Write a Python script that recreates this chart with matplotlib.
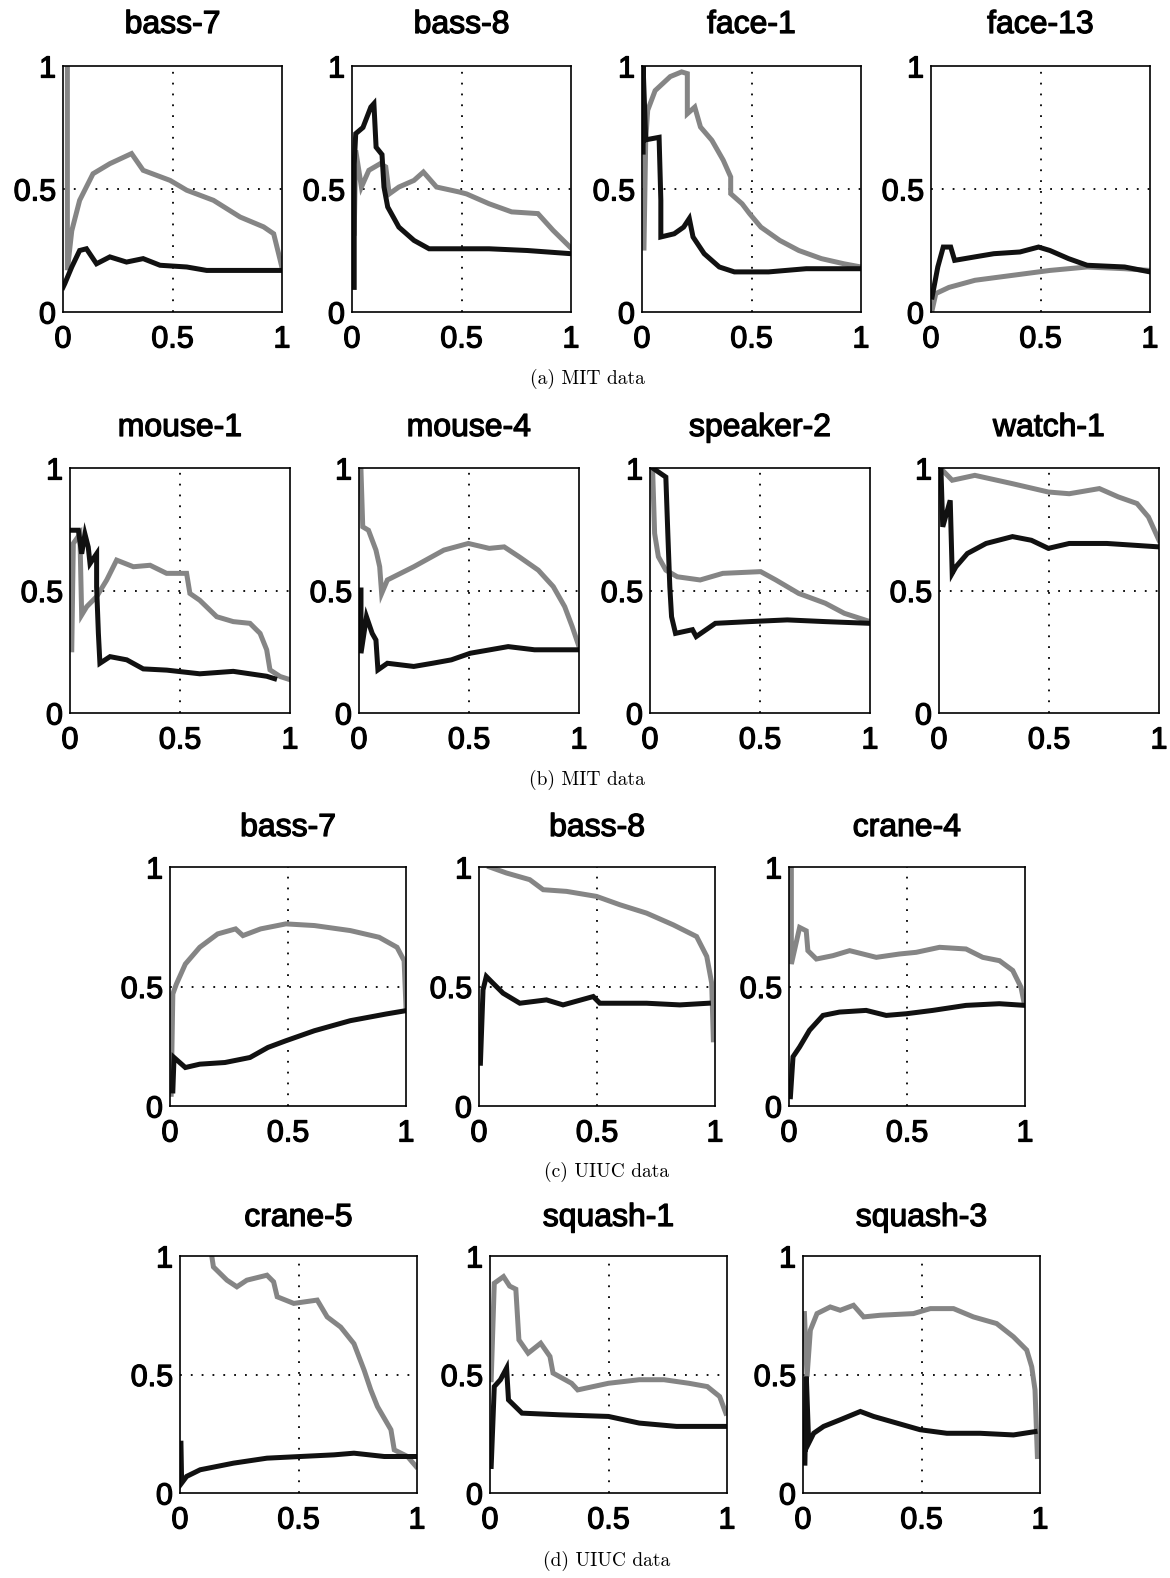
import matplotlib
matplotlib.use("Agg")
import matplotlib.pyplot as plt
import matplotlib.patheffects as pe

# ---------------------------------------------------------------------------
# data: recall on x, precision on y
# ---------------------------------------------------------------------------
# (a) MIT data
bass7_mit_black_x = [0.0, 0.008, 0.04, 0.076, 0.107, 0.153, 0.214, 0.29, 0.366, 0.443, 0.565, 0.656, 0.779, 1.0]
bass7_mit_black_y = [0.10, 0.115, 0.183, 0.25, 0.257, 0.196, 0.224, 0.203, 0.217, 0.19, 0.183, 0.169, 0.169, 0.169]
bass7_mit_gray_x = [0.02, 0.02, 0.04, 0.076, 0.137, 0.214, 0.313, 0.366, 0.489, 0.565, 0.687, 0.809, 0.916, 0.962, 0.992, 1.0]
bass7_mit_gray_y = [1.0, 0.17, 0.33, 0.454, 0.562, 0.603, 0.644, 0.576, 0.535, 0.495, 0.454, 0.386, 0.346, 0.318, 0.21, 0.18]

bass8_mit_black_x = [0.01, 0.01, 0.017, 0.05, 0.086, 0.10, 0.11, 0.137, 0.146, 0.163, 0.214, 0.283, 0.352, 0.455, 0.626, 0.80, 1.0]
bass8_mit_black_y = [0.10, 0.60, 0.725, 0.75, 0.833, 0.847, 0.67, 0.64, 0.508, 0.427, 0.345, 0.291, 0.257, 0.257, 0.257, 0.25, 0.237]
bass8_mit_gray_x = [0.01, 0.017, 0.043, 0.077, 0.129, 0.154, 0.17, 0.214, 0.283, 0.326, 0.386, 0.489, 0.523, 0.626, 0.729, 0.849, 0.918, 1.0]
bass8_mit_gray_y = [0.32, 0.657, 0.508, 0.576, 0.603, 0.59, 0.48, 0.508, 0.535, 0.569, 0.508, 0.488, 0.48, 0.44, 0.407, 0.40, 0.332, 0.26]

face1_mit_black_x = [0.005, 0.005, 0.017, 0.078, 0.086, 0.086, 0.147, 0.19, 0.216, 0.233, 0.284, 0.353, 0.422, 0.578, 0.75, 1.0]
face1_mit_black_y = [0.65, 1.0, 0.70, 0.71, 0.454, 0.305, 0.318, 0.345, 0.38, 0.305, 0.237, 0.183, 0.163, 0.163, 0.176, 0.176]
face1_mit_gray_x = [0.009, 0.017, 0.026, 0.06, 0.129, 0.181, 0.207, 0.207, 0.241, 0.267, 0.319, 0.371, 0.405, 0.405, 0.457, 0.491, 0.543, 0.629, 0.716, 0.819, 0.922, 1.0]
face1_mit_gray_y = [0.26, 0.70, 0.82, 0.90, 0.957, 0.976, 0.969, 0.806, 0.833, 0.752, 0.698, 0.617, 0.549, 0.481, 0.44, 0.40, 0.345, 0.291, 0.25, 0.217, 0.196, 0.183]

face13_mit_black_x = [0.005, 0.031, 0.056, 0.09, 0.108, 0.20, 0.287, 0.406, 0.491, 0.543, 0.628, 0.713, 0.884, 1.0]
face13_mit_black_y = [0.061, 0.183, 0.264, 0.264, 0.21, 0.224, 0.237, 0.244, 0.264, 0.25, 0.217, 0.19, 0.183, 0.163]
face13_mit_gray_x = [0.005, 0.022, 0.082, 0.201, 0.372, 0.543, 0.713, 0.884, 1.0]
face13_mit_gray_y = [0.007, 0.075, 0.10, 0.129, 0.149, 0.169, 0.183, 0.176, 0.169]

# (b) MIT data
mouse1_black_x = [0.008, 0.038, 0.053, 0.068, 0.083, 0.091, 0.121, 0.121, 0.129, 0.136, 0.182, 0.258, 0.333, 0.44, 0.59, 0.742, 0.894, 0.93]
mouse1_black_y = [0.746, 0.746, 0.65, 0.73, 0.677, 0.61, 0.65, 0.515, 0.325, 0.203, 0.23, 0.217, 0.18, 0.175, 0.16, 0.17, 0.15, 0.14]
mouse1_gray_x = [0.008, 0.015, 0.045, 0.053, 0.076, 0.121, 0.167, 0.212, 0.288, 0.364, 0.439, 0.53, 0.545, 0.59, 0.667, 0.742, 0.818, 0.864, 0.894, 0.909, 0.955, 1.0]
mouse1_gray_y = [0.258, 0.692, 0.73, 0.40, 0.434, 0.475, 0.543, 0.624, 0.597, 0.603, 0.57, 0.57, 0.488, 0.46, 0.393, 0.373, 0.366, 0.325, 0.258, 0.176, 0.149, 0.136]

mouse4_black_x = [0.009, 0.009, 0.034, 0.06, 0.077, 0.086, 0.129, 0.249, 0.334, 0.42, 0.506, 0.678, 0.798, 1.0]
mouse4_black_y = [0.502, 0.244, 0.393, 0.325, 0.298, 0.176, 0.203, 0.19, 0.203, 0.217, 0.244, 0.271, 0.258, 0.258]
mouse4_gray_x = [0.009, 0.017, 0.043, 0.077, 0.094, 0.103, 0.129, 0.249, 0.386, 0.497, 0.592, 0.66, 0.729, 0.815, 0.883, 0.935, 0.969, 1.0]
mouse4_gray_y = [0.99, 0.76, 0.746, 0.665, 0.597, 0.488, 0.543, 0.597, 0.665, 0.692, 0.672, 0.678, 0.637, 0.583, 0.516, 0.434, 0.353, 0.271]

speaker2_black_x = [0.012, 0.072, 0.081, 0.09, 0.098, 0.116, 0.193, 0.21, 0.297, 0.452, 0.624, 0.797, 1.0]
speaker2_black_y = [1.0, 0.963, 0.733, 0.516, 0.393, 0.325, 0.34, 0.312, 0.366, 0.373, 0.38, 0.373, 0.366]
speaker2_gray_x = [0.012, 0.021, 0.038, 0.072, 0.124, 0.228, 0.331, 0.503, 0.572, 0.676, 0.797, 0.883, 1.0]
speaker2_gray_y = [0.99, 0.733, 0.638, 0.583, 0.556, 0.543, 0.57, 0.577, 0.543, 0.488, 0.448, 0.407, 0.373]

watch1_black_x = [0.009, 0.017, 0.051, 0.06, 0.077, 0.129, 0.214, 0.334, 0.42, 0.497, 0.592, 0.763, 1.0]
watch1_black_y = [0.99, 0.76, 0.868, 0.57, 0.597, 0.651, 0.692, 0.72, 0.705, 0.672, 0.692, 0.692, 0.678]
watch1_gray_x = [0.009, 0.06, 0.163, 0.334, 0.497, 0.592, 0.729, 0.815, 0.90, 0.952, 1.0]
watch1_gray_y = [0.997, 0.95, 0.97, 0.936, 0.902, 0.895, 0.916, 0.882, 0.855, 0.80, 0.705]

# (c) UIUC data
bass7_uiuc_black_x = [0.012, 0.017, 0.065, 0.126, 0.233, 0.339, 0.415, 0.491, 0.612, 0.764, 0.916, 1.0]
bass7_uiuc_black_y = [0.063, 0.203, 0.161, 0.175, 0.182, 0.203, 0.245, 0.273, 0.315, 0.357, 0.385, 0.399]
bass7_uiuc_gray_x = [0.005, 0.012, 0.027, 0.065, 0.126, 0.202, 0.278, 0.309, 0.384, 0.491, 0.612, 0.764, 0.886, 0.962, 0.992, 1.0]
bass7_uiuc_gray_y = [0.049, 0.469, 0.51, 0.594, 0.664, 0.72, 0.741, 0.713, 0.741, 0.762, 0.755, 0.734, 0.706, 0.664, 0.608, 0.413]

bass8_uiuc_black_x = [0.006, 0.017, 0.031, 0.059, 0.102, 0.173, 0.286, 0.356, 0.484, 0.512, 0.71, 0.851, 0.972]
bass8_uiuc_black_y = [0.179, 0.486, 0.542, 0.514, 0.472, 0.43, 0.444, 0.423, 0.458, 0.43, 0.43, 0.423, 0.43]
bass8_uiuc_gray_x = [0.045, 0.116, 0.215, 0.272, 0.371, 0.498, 0.597, 0.71, 0.823, 0.922, 0.965, 0.986, 0.993]
bass8_uiuc_gray_y = [1.0, 0.975, 0.947, 0.905, 0.898, 0.877, 0.842, 0.807, 0.758, 0.709, 0.626, 0.514, 0.277]

crane4_black_x = [0.006, 0.017, 0.045, 0.087, 0.144, 0.214, 0.327, 0.412, 0.497, 0.609, 0.75, 0.891, 1.0]
crane4_black_y = [0.039, 0.206, 0.247, 0.317, 0.379, 0.393, 0.40, 0.379, 0.386, 0.40, 0.421, 0.428, 0.421]
crane4_gray_x = [0.01, 0.01, 0.045, 0.073, 0.08, 0.116, 0.186, 0.257, 0.37, 0.468, 0.539, 0.638, 0.75, 0.821, 0.892, 0.948, 0.983, 0.997]
crane4_gray_y = [1.0, 0.594, 0.747, 0.733, 0.65, 0.615, 0.629, 0.65, 0.622, 0.636, 0.643, 0.664, 0.657, 0.622, 0.608, 0.567, 0.497, 0.428]

# (d) UIUC data
crane5_black_x = [0.004, 0.007, 0.028, 0.085, 0.226, 0.367, 0.508, 0.65, 0.734, 0.862, 0.996]
crane5_black_y = [0.21, 0.042, 0.07, 0.098, 0.126, 0.147, 0.154, 0.161, 0.168, 0.154, 0.154]
crane5_gray_x = [0.134, 0.141, 0.198, 0.24, 0.282, 0.367, 0.395, 0.41, 0.48, 0.579, 0.621, 0.678, 0.734, 0.777, 0.805, 0.833, 0.89, 0.904, 0.96, 0.996]
crane5_gray_y = [1.0, 0.954, 0.898, 0.87, 0.898, 0.919, 0.891, 0.828, 0.80, 0.814, 0.743, 0.70, 0.63, 0.518, 0.435, 0.365, 0.267, 0.182, 0.154, 0.112]

squash1_black_x = [0.005, 0.018, 0.044, 0.07, 0.078, 0.135, 0.292, 0.5, 0.63, 0.787, 0.995]
squash1_black_y = [0.112, 0.449, 0.478, 0.527, 0.393, 0.337, 0.33, 0.323, 0.295, 0.281, 0.281]
squash1_gray_x = [0.005, 0.018, 0.057, 0.083, 0.109, 0.122, 0.161, 0.214, 0.253, 0.266, 0.344, 0.37, 0.5, 0.63, 0.734, 0.839, 0.917, 0.969, 0.995]
squash1_gray_y = [0.478, 0.885, 0.913, 0.873, 0.86, 0.646, 0.59, 0.632, 0.576, 0.506, 0.463, 0.435, 0.463, 0.478, 0.478, 0.463, 0.449, 0.407, 0.337]

squash3_black_x = [0.008, 0.014, 0.024, 0.045, 0.087, 0.157, 0.242, 0.298, 0.396, 0.494, 0.607, 0.747, 0.888, 0.979]
squash3_black_y = [0.126, 0.491, 0.21, 0.252, 0.281, 0.309, 0.344, 0.323, 0.295, 0.267, 0.252, 0.252, 0.245, 0.259]
squash3_gray_x = [0.006, 0.017, 0.031, 0.059, 0.115, 0.157, 0.213, 0.256, 0.326, 0.466, 0.537, 0.635, 0.719, 0.817, 0.888, 0.944, 0.965, 0.979, 0.989]
squash3_gray_y = [0.757, 0.491, 0.687, 0.757, 0.785, 0.771, 0.792, 0.743, 0.75, 0.757, 0.778, 0.778, 0.743, 0.715, 0.659, 0.603, 0.533, 0.435, 0.154]

titles_row1 = ["bass-7", "bass-8", "face-1", "face-13"]
titles_row2 = ["mouse-1", "mouse-4", "speaker-2", "watch-1"]
titles_row3 = ["bass-7", "bass-8", "crane-4"]
titles_row4 = ["crane-5", "squash-1", "squash-3"]
captions = ["(a) MIT data", "(b) MIT data", "(c) UIUC data", "(d) UIUC data"]

series_row1 = [
    (bass7_mit_black_x, bass7_mit_black_y, bass7_mit_gray_x, bass7_mit_gray_y),
    (bass8_mit_black_x, bass8_mit_black_y, bass8_mit_gray_x, bass8_mit_gray_y),
    (face1_mit_black_x, face1_mit_black_y, face1_mit_gray_x, face1_mit_gray_y),
    (face13_mit_black_x, face13_mit_black_y, face13_mit_gray_x, face13_mit_gray_y),
]
series_row2 = [
    (mouse1_black_x, mouse1_black_y, mouse1_gray_x, mouse1_gray_y),
    (mouse4_black_x, mouse4_black_y, mouse4_gray_x, mouse4_gray_y),
    (speaker2_black_x, speaker2_black_y, speaker2_gray_x, speaker2_gray_y),
    (watch1_black_x, watch1_black_y, watch1_gray_x, watch1_gray_y),
]
series_row3 = [
    (bass7_uiuc_black_x, bass7_uiuc_black_y, bass7_uiuc_gray_x, bass7_uiuc_gray_y),
    (bass8_uiuc_black_x, bass8_uiuc_black_y, bass8_uiuc_gray_x, bass8_uiuc_gray_y),
    (crane4_black_x, crane4_black_y, crane4_gray_x, crane4_gray_y),
]
series_row4 = [
    (crane5_black_x, crane5_black_y, crane5_gray_x, crane5_gray_y),
    (squash1_black_x, squash1_black_y, squash1_gray_x, squash1_gray_y),
    (squash3_black_x, squash3_black_y, squash3_gray_x, squash3_gray_y),
]

# ---------------------------------------------------------------------------
# layout, in pixels of the 1170 x 1578 output
# ---------------------------------------------------------------------------
W, H = 1170, 1578
ROWS = [
    # lefts, width, top, bottom, title_y, caption_y, caption_x
    ([63, 352, 642, 931], 219, 66, 312, 25, 379, 587),
    ([70, 359, 650, 939], 220, 468, 713, 428, 780, 587),
    ([170, 479, 789], 236, 867, 1106, 828, 1172, 607),
    ([180, 490, 803], 237, 1256, 1493, 1218, 1561, 607),
]

TICK_FONT = "Liberation Sans"
GRAY = "#858585"
BLACK = "#111111"
# the scanned labels are a little heavier than the regular face
HEAVY = [pe.withStroke(linewidth=0.9, foreground="black")]


def draw_panel(ax, series):
    bx, by, gx, gy = series
    ax.plot(gx, gy, color=GRAY, lw=3.6, solid_joinstyle="miter", zorder=3)
    ax.plot(bx, by, color=BLACK, lw=3.6, solid_joinstyle="miter", zorder=4)
    ax.set_xlim(0, 1)
    ax.set_ylim(0, 1)
    ax.set_xticks([0, 0.5, 1])
    ax.set_yticks([0, 0.5, 1])
    ax.set_xticklabels(["0", "0.5", "1"], fontsize=22, family=TICK_FONT)
    ax.set_yticklabels(["0", "0.5", "1"], fontsize=22, family=TICK_FONT)
    for lab in ax.get_xticklabels() + ax.get_yticklabels():
        lab.set_path_effects(HEAVY)
    ax.tick_params(axis="both", direction="in", length=0)
    ax.tick_params(axis="x", pad=9)
    ax.tick_params(axis="y", pad=5)
    ax.axvline(0.5, color="black", lw=1.3, ls=(0, (1, 5)), zorder=2)
    ax.axhline(0.5, color="black", lw=1.3, ls=(0, (1, 5)), zorder=2)
    for sp in ax.spines.values():
        sp.set_linewidth(1.2)
        sp.set_color("black")
        sp.set_zorder(5)


fig = plt.figure(figsize=(W / 100, H / 100), dpi=100)

all_series = [series_row1, series_row2, series_row3, series_row4]
all_titles = [titles_row1, titles_row2, titles_row3, titles_row4]

for (lefts, w, top, bottom, title_y, cap_y, cap_x), series, titles, cap in zip(
        ROWS, all_series, all_titles, captions):
    for left, s, t in zip(lefts, series, titles):
        ax = fig.add_axes([left / W, 1 - bottom / H, w / W, (bottom - top) / H])
        draw_panel(ax, s)
        fig.text((left + w / 2) / W, 1 - title_y / H, t, ha="center", va="center",
                 fontsize=23, family=TICK_FONT, path_effects=HEAVY)
    fig.text(cap_x / W, 1 - cap_y / H, cap, ha="center", va="center",
             fontsize=14, family="cmr10")

fig.savefig("out.png", dpi=100)
